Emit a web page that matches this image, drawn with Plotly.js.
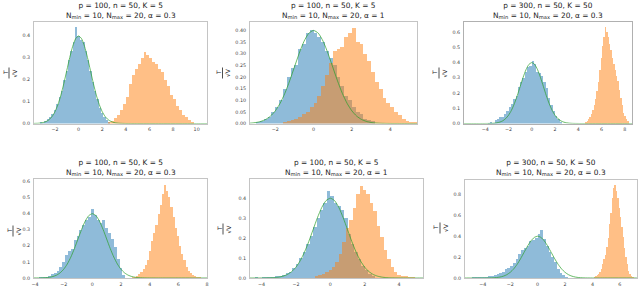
<!DOCTYPE html>
<html><head><meta charset="utf-8">
<script src="https://cdn.plot.ly/plotly-3.0.1.min.js"></script>
<style>html,body{margin:0;padding:0;background:#fff}#chart{width:640px;height:287px}</style>
</head><body><div id="chart"></div>
<script>
// ---------- data ----------
// Histogram bins: first bin left edge and bin width, heights (density)
const blue1Start = -3.3, blue1Width = 0.2;
const blue1 = [0.008,0.004,0.012,0.02,0.03,0.045,0.06,0.09,0.12,0.15,0.2,0.24,0.29,0.33,0.37,0.44,0.40,0.38,0.37,0.33,0.29,0.24,0.19,0.15,0.11,0.07,0.05,0.03,0.015,0.008];
const orange1Start = 2.5, orange1Width = 0.25;
const orange1 = [0.005,0.012,0.025,0.04,0.06,0.09,0.12,0.18,0.22,0.25,0.27,0.30,0.325,0.31,0.30,0.28,0.27,0.25,0.235,0.20,0.17,0.13,0.11,0.08,0.06,0.04,0.03,0.015,0.008];

const blue2Start = -3.0, blue2Width = 0.2;
const blue2 = [0.005,0.01,0.02,0.03,0.05,0.07,0.10,0.15,0.20,0.24,0.25,0.32,0.34,0.39,0.40,0.39,0.37,0.35,0.31,0.28,0.25,0.20,0.16,0.12,0.10,0.07,0.05,0.04,0.02,0.015,0.01];
const orange2Start = -1.6, orange2Width = 0.2;
const orange2 = [0.005,0.01,0.015,0.02,0.03,0.04,0.05,0.07,0.09,0.12,0.16,0.21,0.26,0.31,0.32,0.33,0.37,0.39,0.41,0.35,0.34,0.30,0.27,0.22,0.18,0.15,0.11,0.09,0.07,0.05,0.035,0.02,0.01,0.005,0.008];

const blue3Start = -4.0, blue3Width = 0.2;
const blue3 = [0.0,0.005,0.01,0.005,0.02,0.03,0.04,0.045,0.06,0.08,0.11,0.13,0.16,0.18,0.24,0.27,0.30,0.34,0.37,0.38,0.41,0.39,0.34,0.33,0.31,0.27,0.23,0.17,0.12,0.08,0.05,0.03,0.01];
const orange3Start = 4.6, orange3Width = 0.12;
const orange3 = [0.01,0.015,0.03,0.04,0.06,0.09,0.12,0.16,0.21,0.27,0.35,0.43,0.51,0.57,0.63,0.60,0.57,0.52,0.48,0.43,0.39,0.35,0.31,0.28,0.22,0.17,0.12,0.07,0.05,0.03,0.015];

const blue4Start = -3.7, blue4Width = 0.2;
const blue4 = [0.005,0.004,0.008,0.012,0.025,0.03,0.045,0.07,0.10,0.145,0.17,0.18,0.235,0.26,0.30,0.33,0.36,0.38,0.43,0.39,0.36,0.34,0.36,0.31,0.28,0.24,0.19,0.12,0.06,0.02];
const orange4Start = 2.75, orange4Width = 0.15;
const orange4 = [0.005,0.008,0.015,0.025,0.04,0.055,0.08,0.11,0.17,0.23,0.28,0.33,0.40,0.45,0.52,0.575,0.54,0.50,0.44,0.38,0.31,0.26,0.20,0.15,0.11,0.07,0.045,0.03,0.02,0.015,0.008,0.005];

const blue5Start = -4.4, blue5Width = 0.2;
const blue5 = [0.003,0.002,0.003,0.004,0.005,0.006,0.008,0.012,0.016,0.025,0.032,0.05,0.07,0.10,0.13,0.17,0.21,0.255,0.30,0.34,0.375,0.435,0.41,0.375,0.36,0.34,0.30,0.22,0.17,0.13,0.095,0.06,0.04,0.02,0.008];
const orange5Start = -0.9, orange5Width = 0.2;
const orange5 = [0.008,0.015,0.02,0.03,0.04,0.055,0.08,0.12,0.18,0.25,0.29,0.35,0.42,0.46,0.44,0.42,0.375,0.335,0.26,0.205,0.14,0.095,0.055,0.03,0.015,0.01,0.008,0.005,0.004];

const blue6Start = -4.8, blue6Width = 0.2;
const blue6 = [0.01,0.008,0.01,0.008,0.01,0.012,0.015,0.02,0.025,0.035,0.045,0.055,0.085,0.095,0.11,0.14,0.18,0.23,0.27,0.29,0.31,0.35,0.36,0.38,0.42,0.46,0.37,0.31,0.25,0.20,0.15,0.09,0.05,0.025,0.012];
const orange6Start = 4.1, orange6Width = 0.1;
const orange6 = [0.01,0.015,0.025,0.04,0.06,0.09,0.13,0.18,0.22,0.30,0.38,0.52,0.62,0.76,0.86,0.89,0.83,0.76,0.67,0.58,0.49,0.39,0.29,0.20,0.13,0.07,0.04,0.02,0.01];

// Green reference curve
const curveX = [-7,-6,-5,-4.5,-4,-3.75,-3.5,-3.25,-3,-2.75,-2.5,-2.25,-2,-1.75,-1.5,-1.25,-1,-0.75,-0.5,-0.25,0,0.25,0.5,0.75,1,1.25,1.5,1.75,2,2.25,2.5,2.75,3,3.25,3.5,3.75,4,4.5,5,6,7,8,9,10,11];
const curveY = [0,0,0,0.00002,0.0001,0.0004,0.0009,0.002,0.0044,0.0091,0.0175,0.0317,0.054,0.0863,0.1295,0.1826,0.242,0.3011,0.3521,0.3867,0.3989,0.3867,0.3521,0.3011,0.242,0.1826,0.1295,0.0863,0.054,0.0317,0.0175,0.0091,0.0044,0.002,0.0009,0.0004,0.0001,0.00002,0,0,0,0,0,0,0];

// Titles
const titleLine1 = ["p = 100, n = 50, K = 5","p = 100, n = 50, K = 5","p = 300, n = 50, K = 50","p = 100, n = 50, K = 5","p = 100, n = 50, K = 5","p = 300, n = 50, K = 50"];
const alphaValues = ["0.3","1","0.3","0.3","1","0.3"];

// ---------- layout config ----------
const W = 640, H = 287;
const panels = [
  {b:blue1,bs:blue1Start,bw:blue1Width,o:orange1,os:orange1Start,ow:orange1Width, px:[34,207], py:[22,123.5], xr:[-3.78,10.88], yr:[0,0.4626], xd:2, yd:0.1, yf:'.1f', lab:{t:5,bar:9,v:13.5,y:73}, lc:'#c4c4c4'},
  {b:blue2,bs:blue2Start,bw:blue2Width,o:orange2,os:orange2Start,ow:orange2Width, px:[250,417], py:[22,123.5], xr:[-3.32,5.4], yr:[0,0.435], xd:2, yd:0.05, yf:'.2f', lab:{t:218,bar:222.5,v:227,y:73}, lc:'#c4c4c4'},
  {b:blue3,bs:blue3Start,bw:blue3Width,o:orange3,os:orange3Start,ow:orange3Width, px:[464,632], py:[22,123.5], xr:[-5.83,8.62], yr:[0,0.665], xd:2, yd:0.1, yf:'.1f', lab:{t:434,bar:439,v:443.5,y:73}, lc:'#b0b0b0'},
  {b:blue4,bs:blue4Start,bw:blue4Width,o:orange4,os:orange4Start,ow:orange4Width, px:[34,207], py:[179,278], xr:[-4.07,8.0], yr:[0,0.614], xd:2, yd:0.1, yf:'.1f', lab:{t:9,bar:13,v:17.5,y:231}, lc:'#c4c4c4'},
  {b:blue5,bs:blue5Start,bw:blue5Width,o:orange5,os:orange5Start,ow:orange5Width, px:[250,423], py:[179,278], xr:[-4.67,5.39], yr:[0,0.495], xd:2, yd:0.1, yf:'.1f', lab:{t:219,bar:223,v:227.5,y:229}, lc:'#c4c4c4'},
  {b:blue6,bs:blue6Start,bw:blue6Width,o:orange6,os:orange6Start,ow:orange6Width, px:[465,637], py:[180,278], xr:[-5.3,7.25], yr:[0,0.935], xd:2, yd:0.2, yf:'.1f', lab:{t:435,bar:440,v:445,y:228}, lc:'#c4c4c4'}
];

function centers(start, width, n){ const c=[]; for(let i=0;i<n;i++) c.push(start + width*(i+0.5)); return c; }

const FONT = 'DejaVu Sans, Arial, sans-serif';
const traces = [];
const layout = {
  width: W, height: H, margin:{l:0,r:0,t:0,b:0},
  paper_bgcolor:'#ffffff', plot_bgcolor:'#ffffff',
  showlegend:false, barmode:'overlay', bargap:0,
  font:{family:FONT, color:'#222'},
  annotations:[], shapes:[]
};

panels.forEach((p,i)=>{
  const k = i===0 ? '' : String(i+1);
  const xa = 'x'+k, ya = 'y'+k;
  traces.push({type:'bar', x:centers(p.bs,p.bw,p.b.length), y:p.b, width:p.bw, xaxis:xa, yaxis:ya,
    marker:{color:'#1f77b4', opacity:0.5, line:{width:0}}, hoverinfo:'skip'});
  traces.push({type:'bar', x:centers(p.os,p.ow,p.o.length), y:p.o, width:p.ow, xaxis:xa, yaxis:ya,
    marker:{color:'#ff7f0e', opacity:0.5, line:{width:0}}, hoverinfo:'skip'});
  traces.push({type:'scatter', mode:'lines', x:curveX, y:curveY, xaxis:xa, yaxis:ya,
    line:{color:'rgba(44,160,44,0.8)', width:0.9, shape:'spline', smoothing:0.6}, hoverinfo:'skip', cliponaxis:true});

  const common = {showgrid:false, zeroline:false, showline:true, mirror:true, linecolor:p.lc, linewidth:1,
    ticks:'', tickfont:{size:4.8, color:'#444', family:FONT}, fixedrange:true};
  layout['xaxis'+k] = Object.assign({}, common, {domain:[p.px[0]/W, p.px[1]/W], range:p.xr, dtick:p.xd, tick0:0, anchor:ya, ticklabelstandoff:1});
  layout['yaxis'+k] = Object.assign({}, common, {domain:[1-p.py[1]/H, 1-p.py[0]/H], range:p.yr, dtick:p.yd, tick0:0, tickformat:p.yf, anchor:xa, ticklabelstandoff:2});

  // title (two lines)
  const cx = (p.px[0]+p.px[1])/2/W;
  const ty = i<3 ? 10 : 167;
  layout.annotations.push({xref:'paper', yref:'paper', x:cx, y:1-ty/H, xanchor:'center', yanchor:'middle', showarrow:false,
    text: titleLine1[i] + '<br>N<sub>min</sub> = 10, N<sub>max</sub> = 20, α = ' + alphaValues[i],
    font:{size:7.4, color:'#222', family:FONT}});

  // y label: T over sqrt(V), rotated
  const L = p.lab;
  layout.annotations.push({xref:'paper', yref:'paper', x:L.t/W, y:1-L.y/H, xanchor:'center', yanchor:'middle', showarrow:false,
    text:'T', textangle:-90, font:{size:6, color:'#222', family:FONT}});
  layout.annotations.push({xref:'paper', yref:'paper', x:L.v/W, y:1-L.y/H, xanchor:'center', yanchor:'middle', showarrow:false,
    text:'√V', textangle:-90, font:{size:6, color:'#222', family:FONT}});
  layout.shapes.push({type:'line', xref:'paper', yref:'paper', x0:L.bar/W, x1:L.bar/W, y0:1-(L.y+5.5)/H, y1:1-(L.y-5.5)/H,
    line:{color:'#222', width:0.8}});
});

Plotly.newPlot('chart', traces, layout, {staticPlot:true, displayModeBar:false});
</script></body></html>
